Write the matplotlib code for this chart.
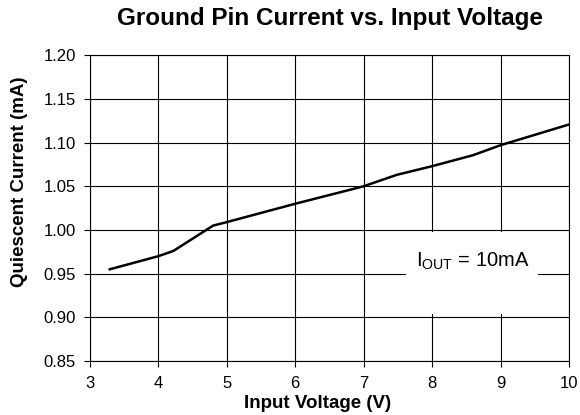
import matplotlib
matplotlib.use("Agg")
import matplotlib.pyplot as plt
from matplotlib.patches import Rectangle

plt.rcParams['font.family'] = ['Liberation Sans', 'DejaVu Sans']
plt.rcParams['mathtext.fontset'] = 'custom'
plt.rcParams['mathtext.rm'] = 'Liberation Sans'
plt.rcParams['mathtext.it'] = 'Liberation Sans'

vin = [3.29, 4.0, 4.22, 4.70, 4.80, 5.0, 6.0, 7.0, 7.48, 8.0, 8.6, 9.0, 10.0]
iq = [0.955, 0.970, 0.976, 1.000, 1.005, 1.009, 1.030, 1.050, 1.063, 1.073, 1.0856, 1.097, 1.1207]
xticks = [3, 4, 5, 6, 7, 8, 9, 10]
yticks = [0.85, 0.90, 0.95, 1.00, 1.05, 1.10, 1.15, 1.20]

fig = plt.figure(figsize=(5.8, 4.15), dpi=100)
ax = fig.add_axes([0.155, 0.130, 0.826, 0.737])
ax.set_xlim(3, 10)
ax.set_ylim(0.85, 1.20)
ax.set_xticks(xticks)
ax.set_yticks(yticks)
ax.set_xticklabels([str(x) for x in xticks], fontsize=12)
ax.set_yticklabels([f"{y:.2f}" for y in yticks], fontsize=12)
ax.grid(True, color='black', linewidth=0.8)
ax.set_axisbelow(True)
for s in ax.spines.values():
    s.set_linewidth(0.8)
ax.tick_params(axis='both', direction='out', length=4, width=0.8)
ax.tick_params(axis='y', pad=6)
ax.tick_params(axis='x', pad=7)

ax.add_patch(Rectangle((7.62, 0.904), 9.55 - 7.62, 0.998 - 0.904,
                       facecolor='white', edgecolor='none', zorder=1.5))
ax.plot(vin, iq, color='black', linewidth=1.8, zorder=3)
ax.text(8.6, 0.9636, r"I$_{\mathrm{OUT}}$ = 10mA", fontsize=14.5,
        ha='center', va='center', zorder=4)

fig.text(0.548, 0.027, "Input Voltage (V)", fontsize=13.5, fontweight='bold',
         ha='center', va='center')
fig.text(0.034, 0.561, "Quiescent Current (mA)", fontsize=13.5, fontweight='bold',
         ha='center', va='center', rotation=90)
fig.text(0.569, 0.955, "Ground Pin Current vs. Input Voltage", fontsize=17.5,
         fontweight='bold', ha='center', va='center')

fig.savefig("out.png", dpi=100)
